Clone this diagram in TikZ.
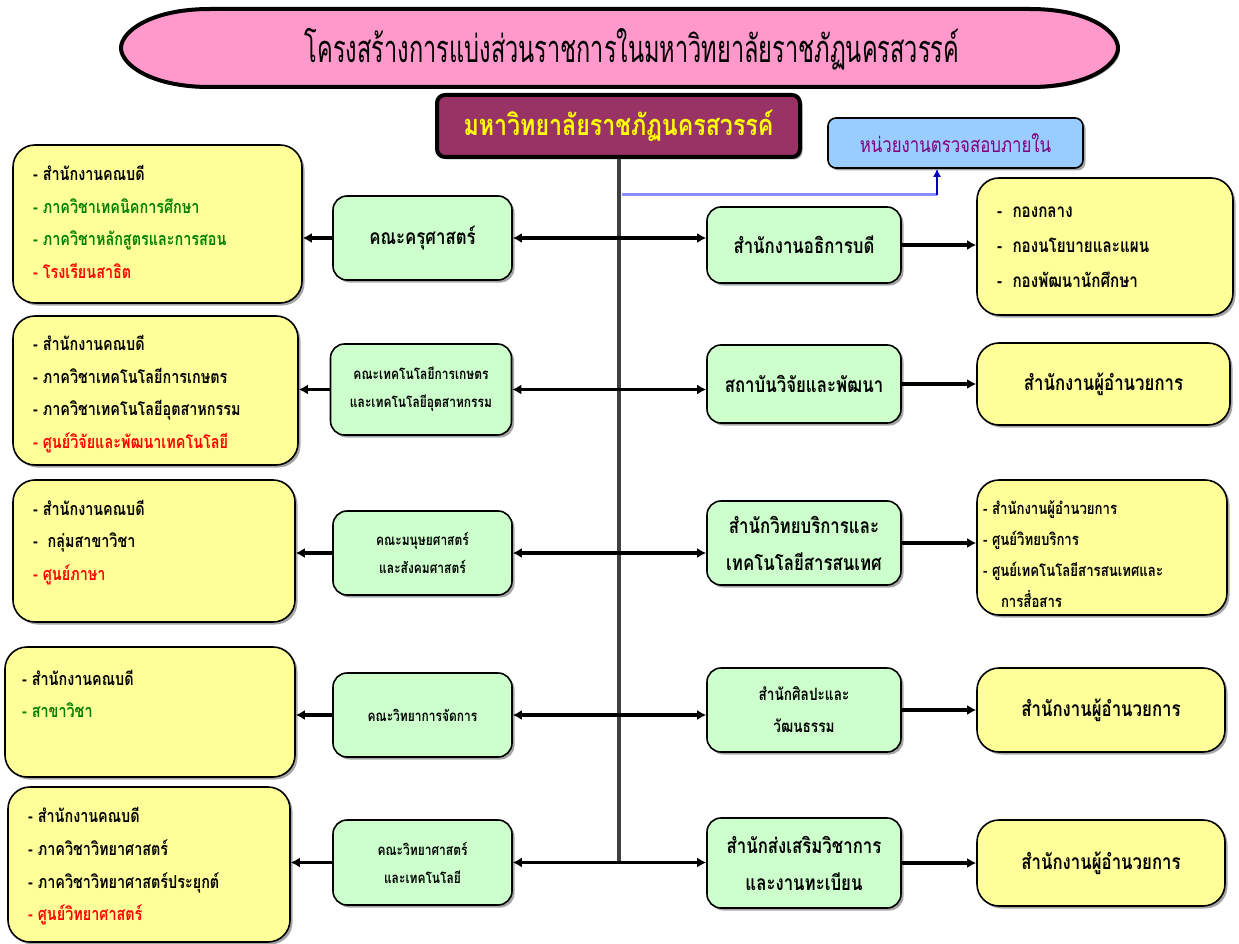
\documentclass[tikz,border=0pt]{standalone}
\usepackage{fontspec}
\newfontfamily\thai[Script=Thai,FakeStretch=0.8]{Loma}
\newfontfamily\thaititle[Script=Thai,FakeStretch=0.62]{Loma}
\usetikzlibrary{shadows,arrows.meta}
\definecolor{boxyellow}{HTML}{FFFF99}
\definecolor{boxgreen}{HTML}{CCFFCC}
\definecolor{titlepink}{HTML}{FF99CC}
\definecolor{univred}{HTML}{993366}
\definecolor{auditblue}{HTML}{99CCFF}
\definecolor{tgreen}{HTML}{008000}
\definecolor{tred}{HTML}{FF0000}
\definecolor{tpurple}{HTML}{800080}
\definecolor{tyellow}{HTML}{FFFF00}
\definecolor{trunkgray}{HTML}{404040}
\definecolor{blueline}{HTML}{8C8CFF}
\tikzset{
  boxbase/.style={draw=black, line width=1.6pt, align=center, inner sep=0pt,
    drop shadow={shadow xshift=2.5pt, shadow yshift=-2.5pt, fill=black, opacity=0.35}},
  gbox/.style={boxbase, fill=boxgreen, rounded corners=14pt},
  ybox/.style={boxbase, fill=boxyellow, rounded corners=22pt},
  gbig/.style={font=\thai\bfseries\fontsize{21}{37}\selectfont},
  gsmall/.style={font=\thai\bfseries\fontsize{15}{28}\selectfont},
  ltext/.style={anchor=west, align=left, inner sep=0pt, font=\thai\bfseries\fontsize{18}{32.7}\selectfont},
  conn/.style={line width=3.6pt, -{Latex[length=9pt,width=10pt]}},
  biconn/.style={line width=3.6pt, {Latex[length=9pt,width=10pt]}-{Latex[length=9pt,width=10pt]}},
}
\begin{document}
\begin{tikzpicture}[x=1pt,y=-1pt]
\useasboundingbox[fill=white] (0,0) rectangle (1239,944);
% title
\draw[line width=4pt, fill=titlepink, drop shadow={shadow xshift=2pt, shadow yshift=-2pt, fill=black, opacity=0.4}]
  (210,9) -- (1030,9) .. controls (1090,9) and (1118,32) .. (1118,48)
  .. controls (1118,64) and (1090,87) .. (1030,87) -- (210,87)
  .. controls (150,87) and (121,64) .. (121,48)
  .. controls (121,32) and (150,9) .. (210,9) -- cycle;
\node[font=\thaititle\fontsize{38}{42}\selectfont, inner sep=0pt] (title) at (632,49) {โครงสร้างการแบ่งส่วนราชการในมหาวิทยาลัยราชภัฏนครสวรรค์};
% top nodes
\node[boxbase, fill=univred, line width=4pt, rounded corners=8pt, minimum width=363pt, minimum height=62pt,
  font=\thai\bfseries\fontsize{29}{32}\selectfont, text=tyellow] (univ) at (618.5,126) {มหาวิทยาลัยราชภัฏนครสวรรค์};
\node[boxbase, fill=auditblue, rounded corners=8pt, minimum width=255pt, minimum height=50pt,
  font=\thai\fontsize{21}{25}\selectfont, text=tpurple] (audit) at (955.5,143) {หน่วยงานตรวจสอบภายใน};
% left green
\node[gbox, gbig, minimum width=179pt, minimum height=84pt] (Lg1) at (422.5,238) {คณะครุศาสตร์};
\node[gbox, gsmall, minimum width=181pt, minimum height=91pt] (Lg2) at (421,389.5) {คณะเทคโนโลยีการเกษตร\\และเทคโนโลยีอุตสาหกรรม};
\node[gbox, gsmall, minimum width=179pt, minimum height=84pt] (Lg3) at (422.5,553) {คณะมนุษยศาสตร์\\และสังคมศาสตร์};
\node[gbox, gsmall, minimum width=179pt, minimum height=84pt] (Lg4) at (422.5,715) {คณะวิทยาการจัดการ};
\node[gbox, gsmall, minimum width=179pt, minimum height=85pt] (Lg5) at (422.5,862.5) {คณะวิทยาศาสตร์\\และเทคโนโลยี};
% right green
\node[gbox, gbig, minimum width=194pt, minimum height=76pt] (Rg1) at (804,245) {สำนักงานอธิการบดี};
\node[gbox, gbig, minimum width=194pt, minimum height=78pt] (Rg2) at (804,384) {สถาบันวิจัยและพัฒนา};
\node[gbox, gbig, minimum width=194pt, minimum height=84pt] (Rg3) at (804,543) {สำนักวิทยบริการและ\\เทคโนโลยีสารสนเทศ};
\node[gbox, font=\thai\bfseries\fontsize{17}{32}\selectfont, minimum width=194pt, minimum height=84pt] (Rg4) at (804,710) {สำนักศิลปะและ\\วัฒนธรรม};
\node[gbox, gbig, minimum width=194pt, minimum height=90pt] (Rg5) at (804,863) {สำนักส่งเสริมวิชาการ\\และงานทะเบียน};
% left yellow
\node[ybox, minimum width=289pt, minimum height=158pt] (Ly1) at (157.5,224) {};
\node[ybox, minimum width=285pt, minimum height=149pt] (Ly2) at (155.5,390.5) {};
\node[ybox, minimum width=282pt, minimum height=142pt] (Ly3) at (154,551) {};
\node[ybox, minimum width=290pt, minimum height=130pt] (Ly4) at (150,712) {};
\node[ybox, minimum width=282pt, minimum height=155pt] (Ly5) at (149,864.5) {};
\node[ltext] (Ly1t) at (33,222) {- สำนักงานคณบดี\\\textcolor{tgreen}{- ภาควิชาเทคนิคการศึกษา}\\\textcolor{tgreen}{- ภาควิชาหลักสูตรและการสอน}\\\textcolor{tred}{- โรงเรียนสาธิต}};
\node[ltext] (Ly2t) at (33,394) {- สำนักงานคณบดี\\- ภาควิชาเทคโนโลยีการเกษตร\\- ภาควิชาเทคโนโลยีอุตสาหกรรม\\\textcolor{tred}{- ศูนย์วิจัยและพัฒนาเทคโนโลยี}};
\node[ltext] (Ly3t) at (33,542.5) {- สำนักงานคณบดี\\-\ \ กลุ่มสาขาวิชา\\\textcolor{tred}{- ศูนย์ภาษา}};
\node[ltext] (Ly4t) at (22,694) {- สำนักงานคณบดี\\\textcolor{tgreen}{- สาขาวิชา}};
\node[ltext] (Ly5t) at (28,866.5) {- สำนักงานคณบดี\\- ภาควิชาวิทยาศาสตร์\\- ภาควิชาวิทยาศาสตร์ประยุกต์\\\textcolor{tred}{- ศูนย์วิทยาศาสตร์}};
% right yellow
\node[ybox, minimum width=256pt, minimum height=137pt] (Ry1) at (1105,246.5) {};
\node[ybox, gbig, minimum width=253pt, minimum height=82pt] (Ry2) at (1103.5,384) {สำนักงานผู้อำนวยการ};
\node[ybox, minimum width=250pt, minimum height=135pt] (Ry3) at (1102,547.5) {};
\node[ybox, gbig, minimum width=248pt, minimum height=84pt] (Ry4) at (1101,710) {สำนักงานผู้อำนวยการ};
\node[ybox, gbig, minimum width=248pt, minimum height=86pt] (Ry5) at (1101,863) {สำนักงานผู้อำนวยการ};
\node[ltext, font=\thai\bfseries\fontsize{19}{35}\selectfont] (Ry1t) at (997,247) {-\ \ กองกลาง\\-\ \ กองนโยบายและแผน\\-\ \ กองพัฒนานักศึกษา};
\node[ltext, font=\thai\bfseries\fontsize{16.5}{31}\selectfont] (Ry3t) at (983,554) {- สำนักงานผู้อำนวยการ\\- ศูนย์วิทยบริการ\\- ศูนย์เทคโนโลยีสารสนเทศและ\\\ \ \ \ การสื่อสาร};
% trunk
\draw[line width=4pt, trunkgray] (univ.south) -- (univ.south |- Lg5.east);
% audit link
\coordinate (bj) at (622,195);
\coordinate (bk) at (937,195);
\draw[line width=3pt, blueline] (bj) -- (bk);
\draw[line width=2.5pt, blue!75!black, -{Latex[length=8pt,width=8pt]}] (bk) -- (bk |- audit.south);
% rows
\foreach \i in {1,...,5}{
  \draw[biconn] (Lg\i.east) -- (Lg\i.east -| Rg\i.west);
  \draw[conn] (Lg\i.west) -- (Lg\i.west -| Ly\i.east);
  \draw[conn] (Rg\i.east) -- (Rg\i.east -| Ry\i.west);
}
\end{tikzpicture}
\end{document}
